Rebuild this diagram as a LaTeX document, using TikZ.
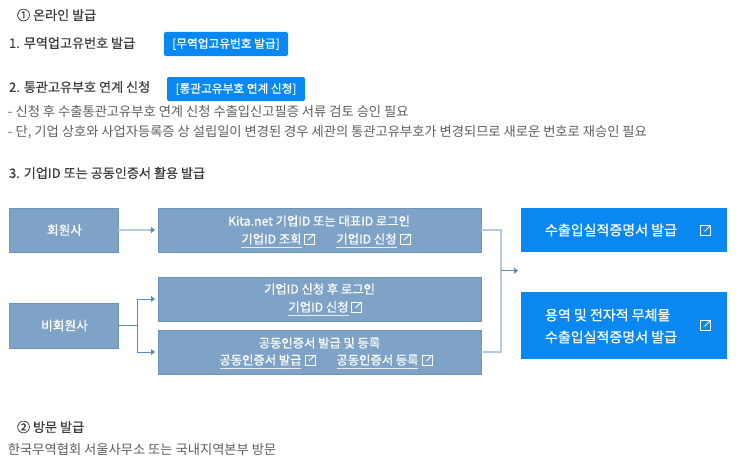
\documentclass[tikz,border=0pt]{standalone}
\usepackage{fontspec}
\setmainfont{Noto Sans CJK KR}
\newfontfamily\medf[FakeBold=0.35]{Noto Sans CJK KR}
\newfontfamily\whitef[FakeBold=0.7]{Noto Sans CJK KR}
\usetikzlibrary{arrows.meta,calc}
\definecolor{boxfill}{HTML}{7FA3C7}
\definecolor{boxedge}{HTML}{6A94B8}
\definecolor{vivid}{HTML}{0A88F2}
\definecolor{linklight}{HTML}{B5CBE0}
\definecolor{linkdark}{HTML}{5F8BB2}
\definecolor{headtext}{HTML}{3A3A3A}
\definecolor{bodytext}{HTML}{5E5E5E}
\tikzset{
  x=1pt,y=-1pt,
  every node/.style={inner sep=0pt,outer sep=0pt},
  plainbox/.style={draw=boxedge,line width=0.8pt,fill=boxfill,minimum height=44pt},
  vividbox/.style={fill=vivid,minimum width=206pt},
  btn/.style={fill=vivid,rounded corners=2pt,minimum height=24pt,text=white,font=\whitef\fontsize{11.7}{13}\selectfont},
  head/.style={anchor=west,text=headtext,font=\medf\fontsize{13.1}{15}\selectfont},
  body/.style={anchor=west,text=bodytext,font=\fontsize{13.27}{15}\selectfont},
  boxtxt/.style={text=white,font=\whitef\fontsize{12.3}{14}\selectfont},
  vividtxt/.style={anchor=west,text=white,font=\whitef\fontsize{14}{16}\selectfont},
  lightline/.style={draw=linklight,line width=1.4pt},
  darkline/.style={draw=linkdark,line width=0.8pt},
  tip/.style={-{Triangle[length=4pt,width=6pt,fill=linkdark]}},
  ulbar/.style={draw=white,line width=0.7pt,opacity=.8},
  exticon/.pic={
    \draw[white,line width=0.8pt] (1,-5) -- (-5,-5) -- (-5,5) -- (5,5) -- (5,-1);
    \draw[white,line width=0.8pt] (-1,1) -- (5,-5);
    \draw[white,line width=0.8pt] (1,-5) -- (5,-5) -- (5,-1);
  }
}
\begin{document}
\begin{tikzpicture}
\useasboundingbox (0,0) rectangle (743,460);
% top texts
\node[head] (t1) at (17,15) {① 온라인 발급};
\node[head] (t2) at (9,43) {1. 무역업고유번호 발급};
\node[btn,minimum width=124pt] (b1) at (226,44) {[무역업고유번호 발급]};
\node[head] (t3) at (9,87) {2. 통관고유부호 연계 신청};
\node[btn,minimum width=138pt] (b2) at (236,89) {[통관고유부호 연계 신청]};
\node[body] (t4) at (8,111.5) {- 신청 후 수출통관고유부호 연계 신청 수출입신고필증 서류 검토 승인 필요};
\node[body] (t5) at (8,132.5) {- 단, 기업 상호와 사업자등록증 상 설립일이 변경된 경우 세관의 통관고유부호가 변경되므로 새로운 번호로 재승인 필요};
\node[head] (t6) at (9,173) {3. 기업ID 또는 공동인증서 활용 발급};
% boxes
\node[plainbox,minimum width=109pt,text=white,font=\whitef\fontsize{12.7}{14}\selectfont] (mem) at (63.5,230) {\hspace{2pt}회원사};
\node[plainbox,minimum width=109pt,minimum height=45pt,text=white,font=\whitef\fontsize{12.7}{14}\selectfont] (non) at (63.5,325.5) {\hspace{2pt}비회원사};
\node[plainbox,minimum width=323pt] (boxa) at (319.5,230) {};
\node[plainbox,minimum width=323pt] (boxb) at (319.5,299) {};
\node[plainbox,minimum width=323pt] (boxc) at (319.5,352) {};
\node[vividbox,minimum height=44pt] (v1) at (624,230) {};
\node[vividbox,minimum height=67pt] (v2) at (624,325.5) {};
% box texts
\node[boxtxt] (a1) at (319,221) {Kita.net 기업ID 또는 대표ID 로그인};
\node[boxtxt] (a2) at (271.5,239) {기업ID 조회};
\node[boxtxt] (a3) at (366.5,239) {기업ID 신청};
\node[boxtxt] (b3) at (319.5,289) {기업ID 신청 후 로그인};
\node[boxtxt] (b4) at (318.5,307) {기업ID 신청};
\node[boxtxt] (c1) at (319.5,343) {공동인증서 발급 및 등록};
\node[boxtxt] (c2) at (260.5,360) {공동인증서 발급};
\node[boxtxt] (c3) at (377.5,360) {공동인증서 등록};
\foreach \n/\yy in {a2/247,a3/247,b4/315,c2/368,c3/368}{
  \draw[ulbar] (\n.west |- 0,\yy) -- (\n.east |- 0,\yy);
}
\pic at (309,239) {exticon};
\pic at (405,239) {exticon};
\pic at (356.5,307) {exticon};
\pic at (310,360) {exticon};
\pic at (427.5,360) {exticon};
\node[vividtxt] (v1t) at (545,230) {수출입실적증명서 발급};
\node[vividtxt] (v2t) at (545,315) {용역 및 전자적 무체물};
\node[vividtxt] (v2u) at (545,337) {수출입실적증명서 발급};
\pic at (705.5,230.5) {exticon};
\pic at (705.5,325.5) {exticon};
% connectors
\coordinate (ja) at ($(boxa.east)+(20,0)$);
\coordinate (jc) at ($(boxc.east)+(20,0)$);
\coordinate (jm) at ($(ja)!0.333!(jc)$);
\coordinate (jo) at ($(jm)+(17,0)$);
\coordinate (nj) at ($(non.east)+(19,0)$);
\draw[lightline] (mem.east) -- ($(boxa.west)+(-5,0)$);
\draw[darkline,tip] ($(boxa.west)+(-8,0)$) -- ($(boxa.west)+(-3,0)$);
\draw[darkline] (non.east) -- (nj);
\draw[darkline,tip] (nj) |- ($(boxb.west)+(-3,0)$);
\draw[darkline,tip] (nj) |- ($(boxc.west)+(-3,0)$);
\draw[lightline] (boxa.east) -- (ja) -- (jc) -- (boxc.east);
\draw[darkline,tip] (jm) -- (jo);
% bottom
\node[head] (t7) at (17,427) {② 방문 발급};
\node[body] (t8) at (8,449) {한국무역협회 서울사무소 또는 국내지역본부 방문};
\end{tikzpicture}
\end{document}
